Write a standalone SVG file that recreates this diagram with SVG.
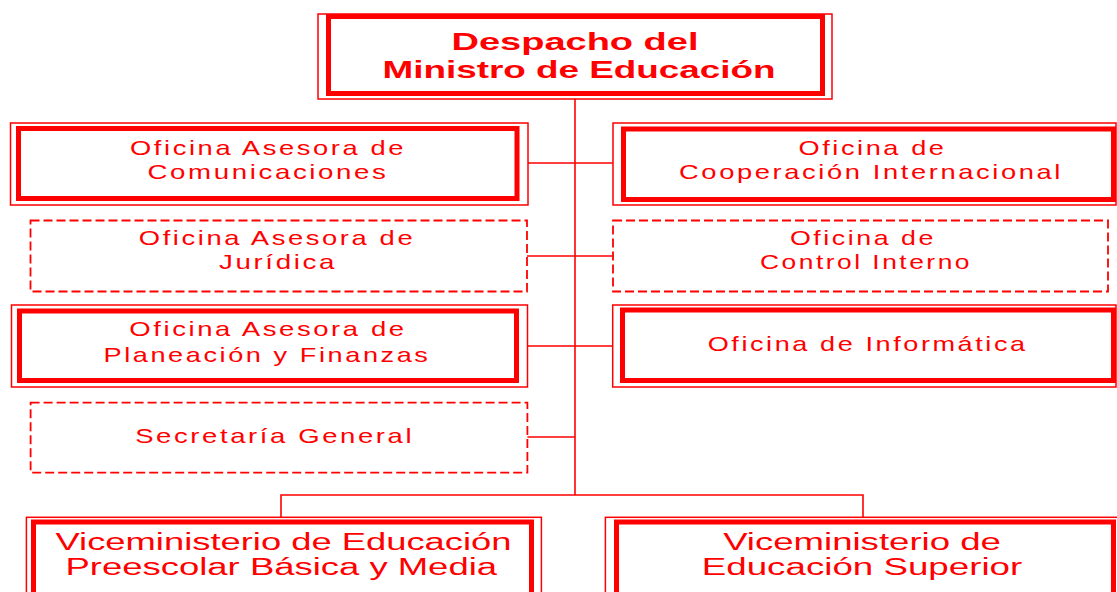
<svg xmlns="http://www.w3.org/2000/svg" width="1117" height="592" viewBox="0 0 1117 592">
<style>
.bg{fill:#ffffff}
.outer{fill:#ffffff;stroke:#ff0000;stroke-width:1.5}
.inner{fill:none;stroke:#ff0000;stroke-width:5}
.dash{fill:#ffffff;stroke:#ff0000;stroke-width:1.8;stroke-dasharray:9 4}
.conn{fill:none;stroke:#ff0000;stroke-width:1.6}
text{font-family:"Liberation Sans",Arial,sans-serif;fill:#ff0000;text-anchor:middle}
.t{font-size:21px;letter-spacing:2px}
.title{font-size:24px;font-weight:bold}
.vice{font-size:23px}
</style>
<rect class="bg" x="0" y="0" width="1117" height="592"/>
<g id="connectors">
<path class="conn" d="M575,99 V495"/>
<path class="conn" d="M528,163 H613"/>
<path class="conn" d="M527,256 H613"/>
<path class="conn" d="M527,346 H613"/>
<path class="conn" d="M527,437 H575"/>
<path class="conn" d="M281,517 V495 H863 V517"/>
</g>
<g id="despacho">
<rect class="outer" x="318" y="14" width="514" height="85"/>
<rect class="inner" x="328.5" y="16.5" width="494" height="77"/>
<text class="title" x="575" y="50" textLength="247" lengthAdjust="spacingAndGlyphs">Despacho del</text>
<text class="title" x="579" y="78" textLength="393" lengthAdjust="spacingAndGlyphs">Ministro de Educación</text>
</g>
<g id="comunicaciones">
<rect class="outer" x="10.5" y="123" width="517.5" height="82"/>
<rect class="inner" x="18.5" y="128.5" width="498.5" height="70"/>
<text class="t" x="268" y="155" textLength="276" lengthAdjust="spacingAndGlyphs">Oficina Asesora de</text>
<text class="t" x="268" y="178.5" textLength="241" lengthAdjust="spacingAndGlyphs">Comunicaciones</text>
</g>
<g id="cooperacion">
<rect class="outer" x="613" y="123" width="503" height="82"/>
<rect class="inner" x="623.5" y="129" width="490" height="70.5"/>
<text class="t" x="872.5" y="154.5" textLength="148" lengthAdjust="spacingAndGlyphs">Oficina de</text>
<text class="t" x="871" y="178.5" textLength="384" lengthAdjust="spacingAndGlyphs">Cooperación Internacional</text>
</g>
<g id="juridica">
<rect class="dash" x="30.5" y="220.5" width="496.5" height="71"/>
<text class="t" x="277" y="245" textLength="276.5" lengthAdjust="spacingAndGlyphs">Oficina Asesora de</text>
<text class="t" x="278" y="269" textLength="118" lengthAdjust="spacingAndGlyphs">Jurídica</text>
</g>
<g id="control-interno">
<rect class="dash" x="613" y="220.5" width="495" height="71"/>
<text class="t" x="863" y="245" textLength="146" lengthAdjust="spacingAndGlyphs">Oficina de</text>
<text class="t" x="866" y="268.5" textLength="212" lengthAdjust="spacingAndGlyphs">Control Interno</text>
</g>
<g id="planeacion">
<rect class="outer" x="11.5" y="305" width="516" height="82"/>
<rect class="inner" x="19.5" y="311" width="497" height="69.5"/>
<text class="t" x="268" y="335.7" textLength="277.5" lengthAdjust="spacingAndGlyphs">Oficina Asesora de</text>
<text class="t" x="267" y="361.7" textLength="327" lengthAdjust="spacingAndGlyphs">Planeación y Finanzas</text>
</g>
<g id="informatica">
<rect class="outer" x="612.7" y="305" width="503.3" height="82"/>
<rect class="inner" x="622.5" y="310" width="491" height="70.5"/>
<text class="t" x="867.7" y="351" textLength="320" lengthAdjust="spacingAndGlyphs">Oficina de Informática</text>
</g>
<g id="secretaria">
<rect class="dash" x="30.6" y="402.7" width="496.8" height="70"/>
<text class="t" x="274.7" y="443.3" textLength="279" lengthAdjust="spacingAndGlyphs">Secretaría General</text>
</g>
<g id="vice-preescolar">
<rect class="outer" x="26.4" y="517.3" width="515" height="90"/>
<rect class="inner" x="33.5" y="522" width="498" height="90"/>
<text class="vice" x="283.5" y="550" textLength="456" lengthAdjust="spacingAndGlyphs">Viceministerio de Educación</text>
<text class="vice" x="281.3" y="575" textLength="431.5" lengthAdjust="spacingAndGlyphs">Preescolar Básica y Media</text>
</g>
<g id="vice-superior">
<rect class="outer" x="605.4" y="517.3" width="520" height="90"/>
<rect class="inner" x="616.5" y="522" width="497" height="90"/>
<text class="vice" x="862" y="550" textLength="277.7" lengthAdjust="spacingAndGlyphs">Viceministerio de</text>
<text class="vice" x="862" y="575" textLength="320.4" lengthAdjust="spacingAndGlyphs">Educación Superior</text>
</g>
</svg>
